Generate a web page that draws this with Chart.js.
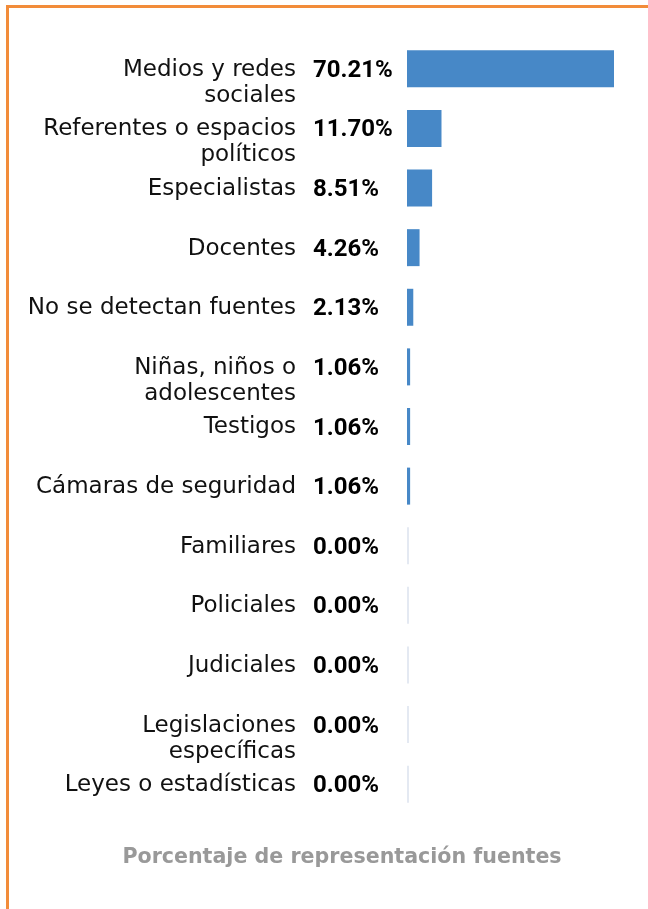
<!DOCTYPE html>
<html>
<head>
<meta charset="utf-8">
<script src="https://cdn.jsdelivr.net/npm/chart.js@4"></script>
<style>
  html, body { margin: 0; padding: 0; background: #fff; }
  #frame {
    position: absolute; left: 6px; top: 5px; width: 645px; height: 910px;
    border-left: 3px solid #F28C3A; border-top: 3px solid #F28C3A;
  }
  #wrap { position: absolute; left: 0; top: 0; width: 648px; height: 909px; }
</style>
</head>
<body>
<div id="frame"></div>
<div id="wrap"><canvas id="grafico"></canvas></div>
<script>
// DATOS
const categorias = [
  ["Medios y redes", "sociales"],
  ["Referentes o espacios", "políticos"],
  ["Especialistas"],
  ["Docentes"],
  ["No se detectan fuentes"],
  ["Niñas, niños o", "adolescentes"],
  ["Testigos"],
  ["Cámaras de seguridad"],
  ["Familiares"],
  ["Policiales"],
  ["Judiciales"],
  ["Legislaciones", "específicas"],
  ["Leyes o estadísticas"]
];
const porcentajes = [70.21, 11.70, 8.51, 4.26, 2.13, 1.06, 1.06, 1.06, 0, 0, 0, 0, 0];
const etiquetasValor = ["70.21%", "11.70%", "8.51%", "4.26%", "2.13%", "1.06%", "1.06%", "1.06%", "0.00%", "0.00%", "0.00%", "0.00%", "0.00%"];
const titulo = "Porcentaje de representación fuentes";

const FUENTE = "'DejaVu Sans', sans-serif";
const FUENTE_VALOR = "Roboto, 'DejaVu Sans', sans-serif";

// PLUGIN: etiquetas a la izquierda, valores en negrita, linea base y titulo
const etiquetasPlugin = {
  id: "etiquetas",
  beforeDatasetsDraw(chart) {
    const ctx = chart.ctx;
    const meta = chart.getDatasetMeta(0);
    ctx.save();
    ctx.strokeStyle = "#e4e9f2";
    ctx.lineWidth = 2;
    meta.data.forEach((bar) => {
      const p = bar.getProps(["y", "height"], true);
      ctx.beginPath();
      ctx.moveTo(chart.chartArea.left + 1, p.y - p.height / 2);
      ctx.lineTo(chart.chartArea.left + 1, p.y + p.height / 2);
      ctx.stroke();
    });
    ctx.restore();
  },
  afterDatasetsDraw(chart) {
    const ctx = chart.ctx;
    const yScale = chart.scales.y;
    const left = chart.chartArea.left;
    ctx.save();
    ctx.textBaseline = "middle";
    categorias.forEach((lineas, i) => {
      const y = yScale.getPixelForValue(i);
      ctx.fillStyle = "#111";
      ctx.font = "23px " + FUENTE;
      ctx.textAlign = "right";
      lineas.forEach((txt, j) => ctx.fillText(txt, left - 111, y + 1 + j * 26));
      ctx.font = "bold 24px " + FUENTE_VALOR;
      ctx.textAlign = "left";
      ctx.fillStyle = "#000";
      ctx.fillText(etiquetasValor[i], left - 94, y + 2);
    });
    // titulo abajo
    ctx.font = "bold 20.6px " + FUENTE;
    ctx.fillStyle = "#999999";
    ctx.textAlign = "center";
    ctx.fillText(titulo, 342, chart.chartArea.bottom + 44);
    ctx.restore();
  }
};

const context = document.getElementById("grafico").getContext("2d");
const grafico = new Chart(context, {
  type: "bar",
  plugins: [etiquetasPlugin],
  data: {
    labels: categorias,
    datasets: [
      {
        label: "Fuentes",
        data: porcentajes,
        backgroundColor: "#4788C7",
        borderWidth: 0,
        barPercentage: 0.62,
        categoryPercentage: 1
      }
    ]
  },
  options: {
    indexAxis: "y",
    responsive: true,
    maintainAspectRatio: false,
    animation: false,
    layout: { padding: { left: 407, right: 34, top: 39, bottom: 95 } },
    scales: {
      x: { display: false, min: 0, max: 70.21 },
      y: { display: false }
    },
    plugins: {
      legend: { display: false },
      tooltip: { enabled: false },
      title: { display: false }
    }
  }
});
</script>
</body>
</html>
